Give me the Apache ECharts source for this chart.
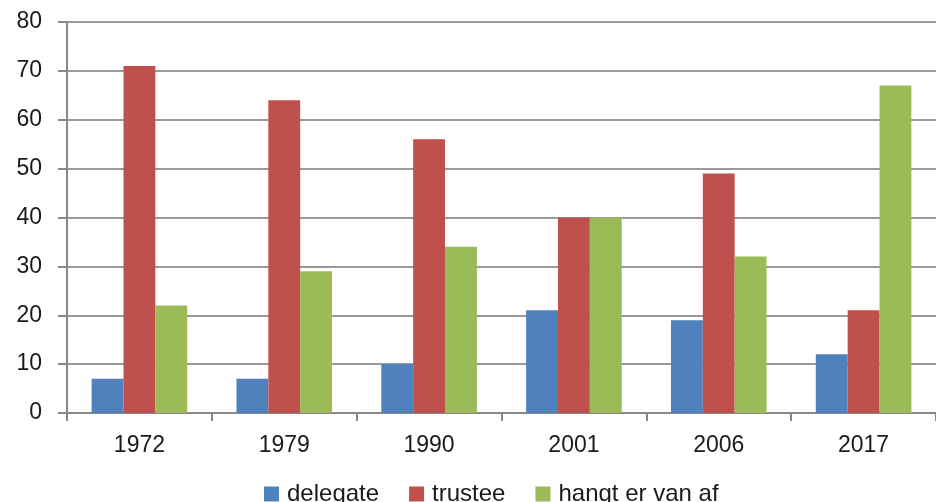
<!DOCTYPE html>
<html>
<head>
<meta charset="utf-8">
<script src="https://cdn.jsdelivr.net/npm/echarts@6/dist/echarts.min.js"></script>
<style>
  html, body { margin: 0; padding: 0; background: #fff; }
  #chart { width: 936px; height: 502px; }
</style>
</head>
<body>
<div id="chart"></div>
<script>
const years = ['1972', '1979', '1990', '2001', '2006', '2017']
const delegate = [7, 7, 10, 21, 19, 12]
const trustee = [71, 64, 56, 40, 49, 21]
const hangtErVanAf = [22, 29, 34, 40, 32, 67]

const chart = echarts.init(document.getElementById('chart'))

const font = 'Liberation Sans'
const textColor = '#1a1a1a'

chart.setOption({
  animation: false,
  grid: {
    left: 67,
    top: 22,
    width: 876,
    height: 391
  },
  legend: {
    top: 477,
    left: 259,
    itemWidth: 15,
    itemHeight: 15,
    itemGap: 30,
    icon: 'rect',
    textStyle: { fontFamily: font, fontSize: 24, color: textColor, padding: [0, 0, 0, 3] }
  },
  xAxis: {
    type: 'category',
    data: years,
    axisLine: { lineStyle: { color: '#888', width: 2 } },
    axisTick: { show: true, length: 8, lineStyle: { color: '#888', width: 2 } },
    axisLabel: { fontFamily: font, fontSize: 23, color: textColor, margin: 21 }
  },
  yAxis: {
    type: 'value',
    min: 0,
    max: 80,
    interval: 10,
    axisLine: { show: true, lineStyle: { color: '#888', width: 2 } },
    axisTick: { show: true, length: 9, lineStyle: { color: '#888', width: 2 } },
    axisLabel: { fontFamily: font, fontSize: 23, color: textColor, margin: 25 },
    splitLine: { lineStyle: { color: '#999', width: 2 } }
  },
  series: [
    {
      name: 'delegate',
      type: 'bar',
      data: delegate,
      itemStyle: { color: '#4F81BD' },
      barGap: '0%',
      barCategoryGap: '34%'
    },
    {
      name: 'trustee',
      type: 'bar',
      data: trustee,
      itemStyle: { color: '#C0504D' }
    },
    {
      name: 'hangt er van af',
      type: 'bar',
      data: hangtErVanAf,
      itemStyle: { color: '#9BBB59' }
    }
  ]
})
</script>
</body>
</html>
